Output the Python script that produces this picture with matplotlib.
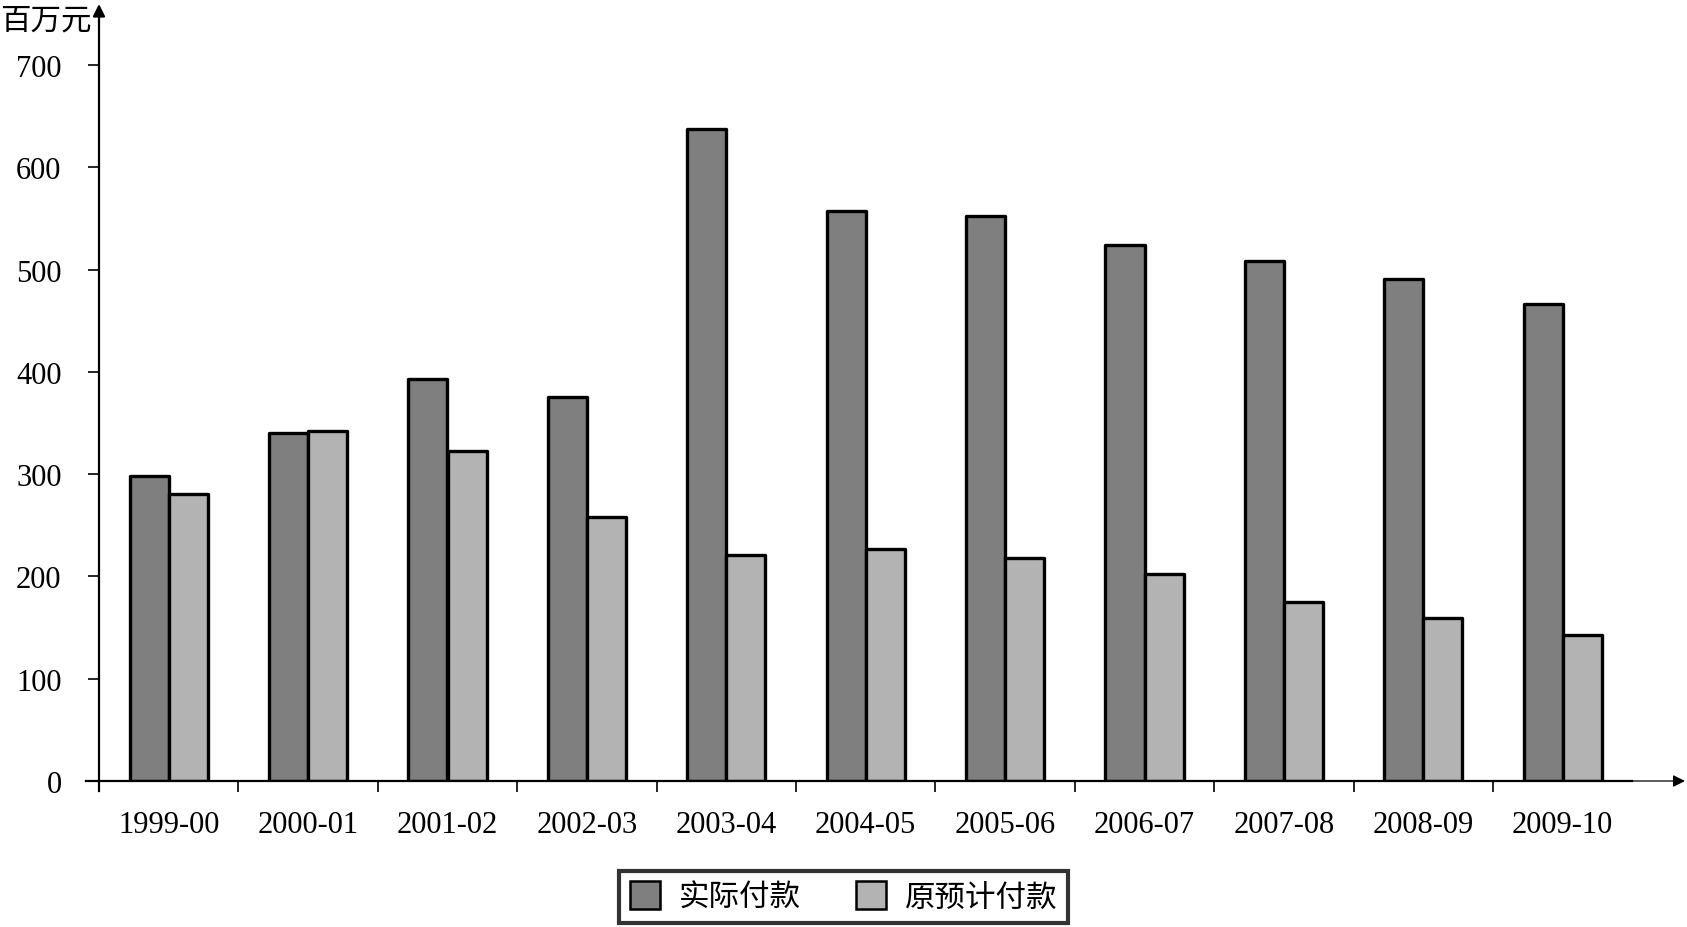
import matplotlib
matplotlib.use("Agg")
import numpy as np
import matplotlib.pyplot as plt
from matplotlib.patches import Patch

# 数据（百万元）
years = ["1999-00", "2000-01", "2001-02", "2002-03", "2003-04", "2004-05",
         "2005-06", "2006-07", "2007-08", "2008-09", "2009-10"]
actual = [298, 340, 393, 375, 637, 557, 552, 524, 508, 491, 466]
planned = [281, 342, 323, 258, 221, 227, 218, 202, 175, 159, 143]
yticks = [0, 100, 200, 300, 400, 500, 600, 700]

dark = "#7f7f7f"
light = "#b3b3b3"
serif = ["Liberation Serif", "DejaVu Serif"]
cjk = ["Noto Sans CJK SC", "DejaVu Sans"]

W, H = 1687, 928
fig = plt.figure(figsize=(W / 100, H / 100), dpi=100)

# axes placed in pixel units
x0, x1 = 99, 1685
y0, y1 = 782, 5
ax = fig.add_axes([x0 / W, 1 - y0 / H, (x1 - x0) / W, (y0 - y1) / H])

step = 139.4
xmax = -0.5 + (x1 - x0) / step
ymax = (y0 - y1) / 102.3 * 100
ax.set_xlim(-0.5, xmax)
ax.set_ylim(0, ymax)

x = np.arange(len(years))
bw = 0.28
ax.bar(x - bw / 2, actual, bw, color=dark, edgecolor="black", linewidth=2.4,
       joinstyle="round", zorder=3)
ax.bar(x + bw / 2, planned, bw, color=light, edgecolor="black", linewidth=2.4,
       joinstyle="round", zorder=3)

for s in ax.spines.values():
    s.set_visible(False)

# x axis: thick part up to the last boundary, then a thin arrow
ax.plot([-0.5 - 13 / step, len(years) - 0.5], [0, 0], color="black", lw=1.6,
        clip_on=False, zorder=4)
ax.annotate("", xy=(xmax, 0), xytext=(len(years) - 0.5, 0),
            arrowprops=dict(arrowstyle="-|>", color="black", lw=0.9,
                            mutation_scale=18, shrinkA=0, shrinkB=0),
            annotation_clip=False)
# y axis
ax.plot([-0.5, -0.5], [-10 / 102.3 * 100, 0], color="black", lw=1.6,
        clip_on=False, zorder=4)
ax.annotate("", xy=(-0.5, ymax), xytext=(-0.5, 0),
            arrowprops=dict(arrowstyle="-|>", color="black", lw=1.6,
                            mutation_scale=18, shrinkA=0, shrinkB=0),
            annotation_clip=False)

ax.set_yticks(yticks)
ax.set_yticklabels([str(v) for v in yticks], family=serif, fontsize=22)
ax.tick_params(axis="y", length=8, width=1.2, pad=19)

ax.set_xticks(x)
ax.set_xticklabels(years, family=serif, fontsize=22)
ax.set_xticks(np.arange(len(years)) - 0.5, minor=True)
ax.tick_params(axis="x", which="major", length=0, pad=21)
ax.tick_params(axis="x", which="minor", length=8, width=1.2, direction="out")

fig.text(0.0, 1 - 21 / H, "百万元", family=cjk, fontsize=22,
         ha="left", va="center")

handles = [Patch(facecolor=dark, edgecolor="black", linewidth=1.8),
           Patch(facecolor=light, edgecolor="black", linewidth=1.8)]
leg = fig.legend(handles, ["实际付款", "原预计付款"], loc="center",
                 bbox_to_anchor=(0.5, 1 - 898 / H), ncol=2, frameon=True,
                 fancybox=False, prop={"family": cjk, "size": 22},
                 handlelength=1.0, handleheight=1.0, handletextpad=0.6,
                 columnspacing=1.8, borderpad=0.35)
leg.get_frame().set_edgecolor("black")
leg.get_frame().set_linewidth(3)

fig.savefig("out.png", dpi=100)
